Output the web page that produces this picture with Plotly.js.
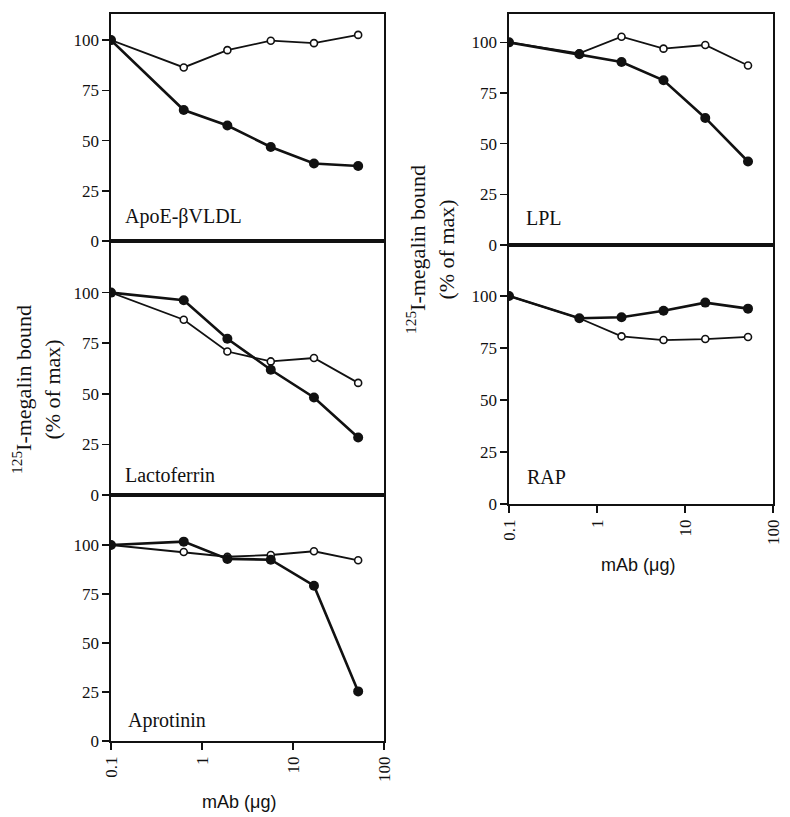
<!DOCTYPE html>
<html><head><meta charset="utf-8">
<script src="https://cdn.plot.ly/plotly-3.0.1.min.js"></script>
<style>html,body{margin:0;padding:0;background:#fff}</style>
</head><body><div id="chart" style="width:790px;height:817px"></div>
<script>
const doses = [0.1, 0.63, 1.9, 5.7, 17, 52];
const xTickVals = [0.1, 1, 10, 100];
const xTickText = ["0.1", "1", "10", "100"];
const yTickVals = [0, 25, 50, 75, 100];

const apoeFilled = [100, 65.2, 57.5, 46.8, 38.6, 37.3];
const apoeOpen = [100, 86.4, 95, 99.7, 98.5, 102.6];
const lactoFilled = [100, 96.2, 77.2, 61.9, 48.2, 28.4];
const lactoOpen = [100, 86.6, 70.9, 66.0, 67.7, 55.4];
const aproFilled = [100, 101.7, 92.9, 92.5, 79.2, 25.3];
const aproOpen = [100, 96.4, 94.0, 94.9, 96.8, 92.2];
const lplFilled = [100, 94.1, 90.3, 81.3, 62.7, 41.2];
const lplOpen = [100, 94.6, 102.8, 96.9, 98.7, 88.6];
const rapFilled = [100, 89.3, 89.8, 92.9, 96.8, 93.9];
const rapOpen = [100, 89.3, 80.6, 78.8, 79.3, 80.3];

const panelNames = ["ApoE-βVLDL", "Lactoferrin", "Aprotinin", "LPL", "RAP"];
const yTitle = "<sup>125</sup>I-megalin bound<br>(% of max)";
const xTitle = "mAb (μg)";

const SERIF = "Liberation Serif";
const SANS = "Liberation Sans";

const series = [
  [apoeFilled, apoeOpen],
  [lactoFilled, lactoOpen],
  [aproFilled, aproOpen],
  [lplFilled, lplOpen],
  [rapFilled, rapOpen]
];

const data = [];
series.forEach((pair, i) => {
  const ax = i === 0 ? "" : String(i + 1);
  data.push({
    x: doses, y: pair[1], xaxis: "x" + ax, yaxis: "y" + ax,
    mode: "lines+markers", type: "scatter", showlegend: false,
    line: {color: "#111", width: 1.8},
    marker: {symbol: "circle", size: 7, color: "#fff", line: {color: "#111", width: 1.6}}
  });
  data.push({
    x: doses, y: pair[0], xaxis: "x" + ax, yaxis: "y" + ax,
    mode: "lines+markers", type: "scatter", showlegend: false,
    line: {color: "#111", width: 2.6},
    marker: {symbol: "circle", size: 10, color: "#111"}
  });
});

const H = 817, W = 790;
const fx = p => p / W;
const fy = p => 1 - p / H;
const panels = [
  {xd: [fx(111), fx(384)], yd: [fy(241), fy(14)], yr: [0, 113], bottom: false},
  {xd: [fx(111), fx(384)], yd: [fy(495), fy(241)], yr: [0, 125.5], bottom: false},
  {xd: [fx(111), fx(384)], yd: [fy(741), fy(495)], yr: [0, 125.5], bottom: true},
  {xd: [fx(509), fx(773)], yd: [fy(245), fy(14)], yr: [0, 114], bottom: false},
  {xd: [fx(509), fx(773)], yd: [fy(504), fy(245)], yr: [0, 124.5], bottom: true}
];
const labelPos = [[0.044, 0.106], [0.044, 0.079], [0.054, 0.085], [0.058, 0.117], [0.061, 0.105]];

const layout = {
  width: W, height: H,
  margin: {l: 0, r: 0, t: 0, b: 0},
  paper_bgcolor: "#fff", plot_bgcolor: "#fff",
  showlegend: false,
  annotations: []
};

panels.forEach((p, i) => {
  const k = i === 0 ? "" : String(i + 1);
  layout["xaxis" + k] = {
    type: "log", range: [-1, 2], domain: p.xd, anchor: "y" + k,
    showline: true, mirror: true, linecolor: "#111", linewidth: 1.6,
    showgrid: false, zeroline: false,
    tickvals: xTickVals, ticktext: xTickText,
    ticks: p.bottom ? "outside" : "", ticklen: 7, tickwidth: 1.5, tickcolor: "#111",
    showticklabels: p.bottom, tickangle: -90,
    tickfont: {family: SERIF, size: 17, color: "#111"}
  };
  layout["yaxis" + k] = {
    range: p.yr, domain: p.yd, anchor: "x" + k,
    showline: true, mirror: true, linecolor: "#111", linewidth: 1.6,
    showgrid: false, zeroline: false,
    tickvals: yTickVals, ticks: "outside", ticklen: 7, tickwidth: 1.5, tickcolor: "#111",
    tickfont: {family: SERIF, size: 17, color: "#111"}
  };
  layout.annotations.push({
    text: panelNames[i], xref: "x" + k + " domain", yref: "y" + k + " domain",
    x: labelPos[i][0], y: labelPos[i][1], xanchor: "left", yanchor: "middle",
    showarrow: false, font: {family: SERIF, size: 20, color: "#111"}
  });
});

layout.annotations.push({
  text: xTitle, xref: "paper", yref: "paper", x: fx(239), y: fy(802),
  xanchor: "center", yanchor: "middle", showarrow: false,
  font: {family: SANS, size: 18, color: "#111"}
});
layout.annotations.push({
  text: xTitle, xref: "paper", yref: "paper", x: fx(638), y: fy(565),
  xanchor: "center", yanchor: "middle", showarrow: false,
  font: {family: SANS, size: 18, color: "#111"}
});
layout.annotations.push({
  text: yTitle, xref: "paper", yref: "paper", x: fx(36), y: fy(390),
  xanchor: "center", yanchor: "middle", showarrow: false, textangle: -90,
  font: {family: SERIF, size: 22, color: "#111"}
});
layout.annotations.push({
  text: yTitle, xref: "paper", yref: "paper", x: fx(430), y: fy(250),
  xanchor: "center", yanchor: "middle", showarrow: false, textangle: -90,
  font: {family: SERIF, size: 22, color: "#111"}
});

Plotly.newPlot("chart", data, layout, {staticPlot: true, displayModeBar: false});
</script></body></html>
